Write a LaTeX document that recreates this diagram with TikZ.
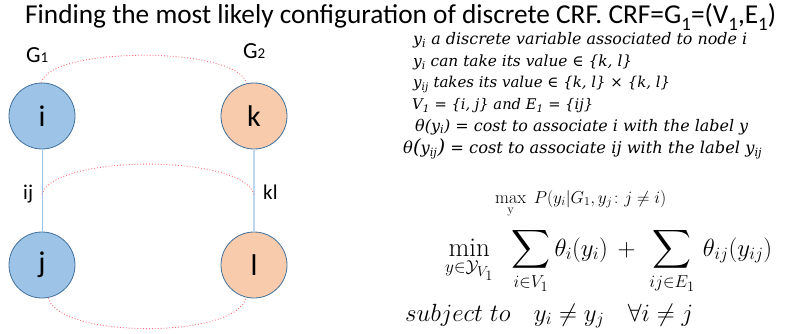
\documentclass[tikz,border=0pt]{standalone}
\usepackage{amsmath,amssymb}
\usepackage{graphicx}
\usepackage{fontspec}
\newfontfamily\carlito{Carlito}
\newfontfamily\dvs{DejaVu Serif}
\definecolor{nodeblue}{HTML}{9DC3E6}
\definecolor{nodeorange}{HTML}{F8CBAD}
\definecolor{nodeborder}{HTML}{41719C}
\definecolor{tieblue}{HTML}{9DC3E6}
\definecolor{tielight}{HTML}{BDD7EE}
\definecolor{corrred}{HTML}{FF6F73}
\newcommand{\sbs}[1]{\textsubscript{#1}}
\newcommand{\up}[1]{{\upshape #1}}
\newcommand{\fitw}[2]{\resizebox{#1pt}{!}{#2}}
\begin{document}
\begin{tikzpicture}[x=1pt,y=-1pt,
  gnode/.style={circle,draw=nodeborder,line width=0.8pt,minimum size=66pt,inner sep=0pt,
    font=\carlito\fontsize{30}{30}\selectfont},
  bnode/.style={gnode,fill=nodeblue},
  onode/.style={gnode,fill=nodeorange},
  tie/.style={draw=tieblue,line width=1pt},
  corr/.style={draw=corrred,dotted,line width=0.9pt},
  glabel/.style={font=\carlito\fontsize{23}{23}\selectfont,anchor=base west,inner sep=0pt},
  elabel/.style={font=\carlito\fontsize{21}{21}\selectfont,anchor=base west,inner sep=0pt},
  txt/.style={font=\dvs\itshape\fontsize{15}{15}\selectfont,anchor=base west,inner sep=0pt}]
\useasboundingbox (0,0) rectangle (786,334);
% title
\node[font=\carlito\fontsize{27.3}{27.3}\selectfont,anchor=base west,inner sep=0pt] (title) at (25,24)
  {Finding the most likely configuration of discrete CRF. CRF=G\raisebox{-0.22em}{\fontsize{19}{19}\selectfont 1}=(V\raisebox{-0.22em}{\fontsize{19}{19}\selectfont 1},E\raisebox{-0.22em}{\fontsize{19}{19}\selectfont 1})};
% nodes
\node[bnode] (i) at (42,116) {i};
\node[onode] (k) at (254,116) {k};
\node[bnode] (j) at (42,265) {j};
\node[onode] (l) at (254,265) {l};
\node[glabel] (g1) at (26,63) {G{\fontsize{15}{15}\selectfont 1}};
\node[glabel] (g2) at (243,59) {G{\fontsize{15}{15}\selectfont 2}};
\node[elabel] (ij) at (23,199) {ij};
\node[elabel] (kl) at (263,199) {kl};
% ties
\draw[tie] (i) -- (j) coordinate[pos=0.55] (ijm);
\draw[draw=tielight,line width=1.6pt] (k) -- (l) coordinate[pos=0.55] (klm);
% correspondences
\draw[corr] (i.91) .. controls (50,46) and (238,46) .. (k.103);
\draw[corr] (ijm) .. controls (52,154) and (244,154) .. (klm);
\draw[corr] (j.-79) .. controls (58,339) and (238,339) .. (l.-104);
% text lines
\node[txt] (t1) at (413,45) {\fitw{334}{y\sbs{i} a discrete variable associated to node i}};
\node[txt] (t2) at (413,66.5) {\fitw{219}{y\sbs{i} can take its value \up{∈} \{k, l\}}};
\node[txt] (t3) at (413,88) {\fitw{257}{y\sbs{ij} takes its value \up{∈} \{k, l\} \up{×} \{k, l\}}};
\node[txt] (t4) at (412,109.5) {\fitw{181}{V\sbs{1} = \{i, j\} and E\sbs{1} = \{ij\}}};
\node[txt] (t5) at (415,131) {\fitw{333}{θ(y\sbs{i}) = cost to associate i with the label y}};
\node[txt] (t6) at (403,153) {\fitw{359}{θ{\fontsize{18}{18}\selectfont(}y\sbs{ij}{\fontsize{18}{18}\selectfont)} = cost to associate ij with the label y\sbs{ij}}};
% formulas
\node[font=\fontsize{18}{18}\selectfont,anchor=base west,inner sep=0pt] (f1) at (495,203)
  {$\max\limits_{\mathrm{y}}\; P(y_i|G_1, y_j\colon j\neq i)$};
\node[font=\fontsize{27}{27}\selectfont,anchor=base west,inner sep=0pt] (f2) at (445,256)
  {$\displaystyle\min_{y\in\mathcal{Y}_{V_1}}\;\;\sum_{i\in V_1}\theta_i(y_i)\,+\,\,\sum_{ij\in E_1}\,\theta_{ij}(y_{ij})$};
\node[font=\fontsize{23.5}{23.5}\selectfont,anchor=base west,inner sep=0pt] (f3) at (405,321)
  {$subject\ to\quad y_i\neq y_j\quad \forall i\neq j$};
\end{tikzpicture}
\end{document}
